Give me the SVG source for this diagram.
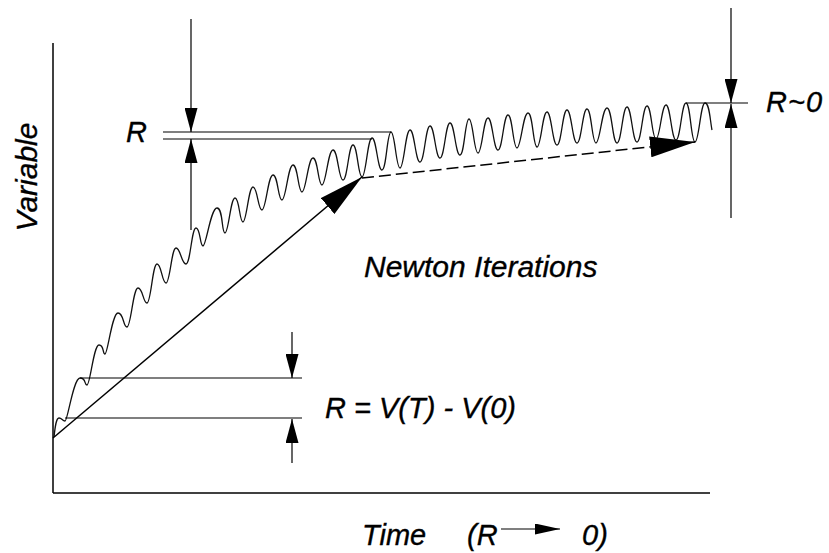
<svg xmlns="http://www.w3.org/2000/svg" width="829" height="553" viewBox="0 0 829 553">
<style>
.txt{font-family:"Liberation Sans",Arial,sans-serif;font-style:italic;fill:#000;stroke:#000;stroke-width:0.35;font-size:29px}
.ax{stroke:#000;stroke-width:1.5;fill:none}
.dim{stroke:#000;stroke-width:1.2;fill:none}
.wave{stroke:#111;stroke-width:1.3;fill:none;stroke-linejoin:round}
.solid{stroke:#000;stroke-width:1.5;fill:none}
.dash{stroke:#000;stroke-width:1.5;fill:none;stroke-dasharray:12 5}
</style>
<defs>
<marker id="dimArrow" markerUnits="userSpaceOnUse" markerWidth="24" markerHeight="13" refX="24" refY="6.5" orient="auto" viewBox="0 0 24 13">
<path d="M0,0 L24,6.5 L0,13 Z" fill="#000"/>
</marker>
<marker id="bigArrow" markerUnits="userSpaceOnUse" markerWidth="45" markerHeight="21" refX="45" refY="10.5" orient="auto" viewBox="0 0 45 21">
<path d="M0,0 L45,10.5 L0,21 Z" fill="#000"/>
</marker>
<marker id="smallArrow" markerUnits="userSpaceOnUse" markerWidth="25" markerHeight="11" refX="25" refY="5.5" orient="auto" viewBox="0 0 25 11">
<path d="M0,0 L25,5.5 L0,11 Z" fill="#000"/>
</marker>
</defs>
<rect width="829" height="553" fill="#fff"/>

<g id="axes">
<line class="ax" x1="53" y1="43" x2="53" y2="493"/>
<line class="ax" x1="53" y1="493" x2="710" y2="493"/>
</g>

<g id="curve">
<path class="wave" d="M54,437 C55,428 56,418 59,418 S62.3,421 65,421 S73.3,378 80,378 S83.8,385 87,385 S93.6,345 99,345 S102.3,354 105,354 S112.1,313 118,313 S123,327 127,327 S133,288 138,288 S143,303 147,303 S152.5,264 157,264 S162,283 166,283 S171.5,248 176,248 S181.5,264 186,264 S191.5,228 196,228 S199.8,246 203,246 S210.7,208 217,208 S221.4,233 225,233 S230.5,198 235,198 S239.4,222 243,222 S248.5,187 253,187 S258,210 262,210 S268,175 273,175 S278,200 282,200 S288,165 293,165 S298,192 302,192 S308,158 313,158 S318,185 322,185 S328,150 333,150 S338.5,180 343,180 S348.5,145 353,145 S358,177 362,177 S367.5,138 372,138 S377.5,170 382,170 S387,132 391,132 S396,168 400,168 S405.5,130 410,130 S415.5,162 420,162 S425.5,126 430,126 S435.5,158 440,158 S445.5,123 450,123 S455.5,155 460,155 S465,119 469,119 S474,153 478,153 S483.5,118 488,118 S493.5,150 498,150 S503.5,115 508,115 S513,148 517,148 S523,113 528,113 S533,147 537,147 S542.5,112 547,112 S552.5,145 557,145 S562.5,110 567,110 S572.5,143 577,143 S582.5,109 587,109 S592,143 596,143 S602,108 607,108 S612.5,143 617,143 S622.5,107 627,107 S632.5,142 637,142 S642.5,106 647,106 S652,139 656,139 S661.5,105 666,105 S671.5,140 676,140 S681.5,103 686,103 S691,142 695,142 S700.5,103 705,103 S710,120 712,130"/>
</g>

<g id="connectors">
<line class="solid" x1="53" y1="438" x2="362" y2="177" marker-end="url(#bigArrow)"/>
<line class="dash" x1="362" y1="178" x2="695" y2="142" marker-end="url(#bigArrow)"/>
</g>

<g id="dim-top-R">
<line class="dim" x1="163" y1="132" x2="391" y2="132"/>
<line class="dim" x1="163" y1="139" x2="372" y2="139"/>
<line class="dim" x1="191" y1="19" x2="191" y2="132" marker-end="url(#dimArrow)"/>
<line class="dim" x1="191" y1="230" x2="191" y2="139" marker-end="url(#dimArrow)"/>
<text class="txt" x="126" y="142">R</text>
</g>

<g id="dim-R0">
<line class="dim" x1="686" y1="103" x2="748" y2="103"/>
<line class="dim" x1="731" y1="8" x2="731" y2="103" marker-end="url(#dimArrow)"/>
<line class="dim" x1="731" y1="218" x2="731" y2="104" marker-end="url(#dimArrow)"/>
<text class="txt" x="766" y="112" letter-spacing="1">R~0</text>
</g>

<g id="dim-bottom-R">
<line class="dim" x1="80" y1="378" x2="302" y2="378"/>
<line class="dim" x1="65" y1="418" x2="302" y2="418"/>
<line class="dim" x1="292" y1="332" x2="292" y2="378" marker-end="url(#dimArrow)"/>
<line class="dim" x1="292" y1="463" x2="292" y2="419" marker-end="url(#dimArrow)"/>
<text class="txt" x="325" y="418">R = V(T) - V(0)</text>
</g>

<g id="label-newton">
<text class="txt" style="font-size:30px" x="364" y="277">Newton Iterations</text>
</g>

<g id="label-variable">
<text class="txt" style="font-size:30px" text-anchor="middle" transform="translate(37,177) rotate(-90)">Variable</text>
</g>

<g id="label-time">
<text class="txt" x="362" y="545">Time</text>
<text class="txt" x="467" y="545">(R</text>
<line class="dim" x1="501" y1="529" x2="560" y2="529" marker-end="url(#smallArrow)"/>
<text class="txt" x="582" y="545">0)</text>
</g>
</svg>
